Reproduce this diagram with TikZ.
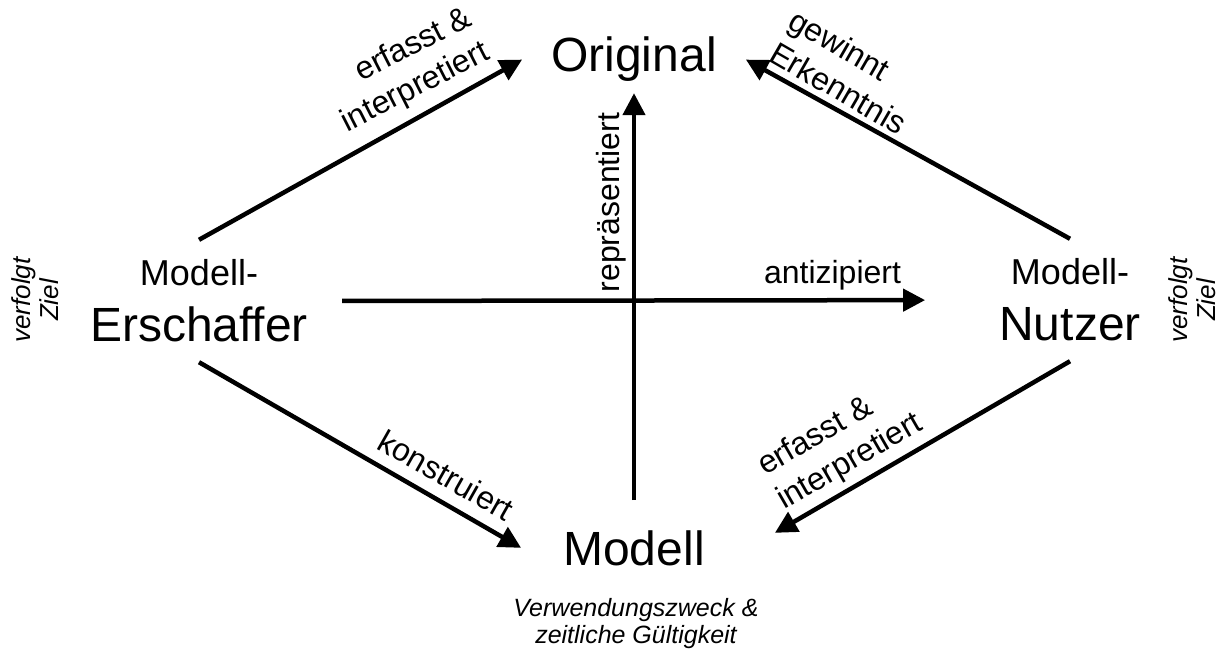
\documentclass[tikz,border=0pt]{standalone}
\usepackage{fontspec}
\setmainfont{Liberation Sans}
\usetikzlibrary{arrows.meta}
\begin{document}
\begin{tikzpicture}[x=1pt,y=-1pt,
  every node/.style={inner sep=0pt, text=black},
  conn/.style={line width=4.5pt, -{Triangle[length=22pt,width=22pt]}},
  big/.style={font=\fontsize{48}{56}\selectfont},
  role/.style={font=\fontsize{48}{56}\selectfont, align=center, minimum height=122pt},
  verb/.style={font=\fontsize{32}{38.4}\selectfont},
  note/.style={font=\fontsize{26}{28}\selectfont\itshape},
]
\useasboundingbox (0,0) rectangle (1222,652);

% main concepts
\node[big, inner xsep=29pt, inner ysep=11pt, anchor=base] (orig) at (634,72) {Original};
\node[big, inner xsep=42pt, inner ysep=30pt, anchor=base] (model) at (634,565) {Modell};
\node[role] (creator) at (199,301) {{\fontsize{36}{56}\selectfont Modell-}\\Erschaffer};
\node[role] (user) at (1070,300) {{\fontsize{36}{56}\selectfont Modell-}\\Nutzer};

% relations
\draw[conn] (creator.north) -- (orig.west);
\draw[conn] (user.north) -- (orig.east);
\draw[conn] (creator.south) -- (model.west);
\draw[conn] (user.south) -- ([shift={(28,-15)}]model.east);
\draw[conn] (model.north) -- (orig.south);
\draw[conn, shorten <=34pt, shorten >=74pt] (creator.east) -- (user.west);

% relation labels, one node per line
\node[verb, rotate=27, anchor=base east] (lblA1) at (474,24.5) {erfasst \&};
\node[verb, rotate=27, anchor=base east] (lblA2) at (491.4,58.7) {interpretiert};
\node[verb, rotate=-30, anchor=base west] (lblB1) at (786,27) {gewinnt};
\node[verb, rotate=-30, anchor=base west] (lblB2) at (767,60) {Erkenntnis};
\node[verb, rotate=-29.5, anchor=base west] (lblC) at (375.4,448) {konstruiert};
\node[verb, rotate=30, anchor=base west] (lblD1) at (765,476) {erfasst \&};
\node[verb, rotate=30, anchor=base west] (lblD2) at (784,510) {interpretiert};
\node[verb, anchor=base] (lblE) at (832.5,283) {antizipiert};
\node[verb, rotate=90, anchor=base] (lblF) at (619,202.5) {repräsentiert};

% side notes
\node[note, rotate=90, align=center] (goalA) at (35,300) {verfolgt\\Ziel};
\node[note, rotate=90, align=center] (goalB) at (1192.5,300) {verfolgt\\Ziel};
\node[note, align=center, font=\fontsize{25}{27}\selectfont\itshape] (purpose) at (636,624) {Verwendungszweck \&\\zeitliche Gültigkeit};
\end{tikzpicture}
\end{document}
